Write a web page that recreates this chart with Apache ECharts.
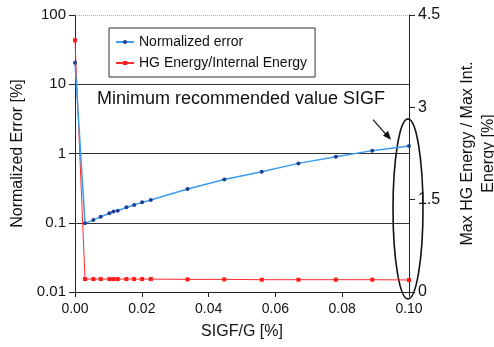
<!DOCTYPE html>
<html>
<head>
<meta charset="utf-8">
<script src="https://cdn.jsdelivr.net/npm/echarts@6/dist/echarts.min.js"></script>
<style>
  html, body { margin: 0; padding: 0; background: #fff; }
  #chart { width: 494px; height: 347px; }
</style>
</head>
<body>
<div id="chart"></div>
<script>
// x positions (SIGF/G in %)
const sigf = [0, 0.003, 0.0055, 0.0077, 0.0103, 0.0115, 0.0128, 0.0154, 0.0177, 0.0201, 0.0227,
              0.0337, 0.0447, 0.0559, 0.0669, 0.0781, 0.089, 0.1];
// normalized error [%] (left, log)
const normError = [20.5, 0.098, 0.11, 0.122, 0.137, 0.145, 0.149, 0.167, 0.18, 0.197, 0.213,
                   0.307, 0.42, 0.546, 0.72, 0.9, 1.1, 1.28];
// HG energy / internal energy [%] (right, linear)
const hgRatio = [4.09, 0.21, 0.21, 0.21, 0.21, 0.21, 0.21, 0.21, 0.21, 0.21, 0.21,
                 0.205, 0.205, 0.2, 0.2, 0.2, 0.2, 0.195];
const leftTicks = [0.01, 0.1, 1, 10, 100];
const rightTicks = [0, 1.5, 3, 4.5];

const font = "Liberation Sans, Arial, sans-serif";
const chart = echarts.init(document.getElementById("chart"));

const option = {
    animation: false,
    grid: { left: 75, right: 85, top: 15, bottom: 55, containLabel: false, outerBoundsMode: "none" },
    legend: {
        left: 109, top: 28,
        orient: "vertical",
        borderColor: "#333", borderWidth: 1,
        padding: [7, 8, 7, 6],
        itemGap: 7, itemWidth: 18, itemHeight: 5,
        textStyle: { fontFamily: font, fontSize: 14, color: "#111", lineHeight: 14 },
        data: ["Normalized error", "HG Energy/Internal Energy"],
    },
    xAxis: {
        type: "value",
        min: 0, max: 0.1, interval: 0.02,
        name: "SIGF/G [%]", nameLocation: "middle", nameGap: 32,
        nameTextStyle: { fontFamily: font, fontSize: 16, color: "#111" },
        axisLine: { lineStyle: { color: "#222", width: 1 } },
        axisTick: { show: true, length: 5, lineStyle: { color: "#222" } },
        axisLabel: { fontFamily: font, fontSize: 14, color: "#111", margin: 10,
                     formatter: v => v.toFixed(2) },
        splitLine: { show: false },
    },
    yAxis: [{
        type: "log", logBase: 10,
        min: leftTicks[0], max: leftTicks[leftTicks.length - 1],
        name: "Normalized Error [%]", nameLocation: "middle", nameGap: 48,
        nameTextStyle: { fontFamily: font, fontSize: 16, color: "#111" },
        axisLine: { show: true, lineStyle: { color: "#222", width: 1 } },
        axisTick: { show: true, length: 6, lineStyle: { color: "#222" } },
        axisLabel: { fontFamily: font, fontSize: 15, color: "#111", margin: 9,
                     formatter: v => String(+v.toPrecision(2)) },
        splitLine: { show: true, lineStyle: { color: ["#333", "#333", "#333", "#333", "rgba(0,0,0,0)"], width: 1 } },
        minorTick: { show: false },
    }, {
        type: "value",
        min: 0, max: 4.5, interval: 1.5,
        position: "right",
        name: "Max HG Energy / Max Int.\nEnergy [%]", nameLocation: "middle", nameGap: 48, nameRotate: 90,
        nameTextStyle: { fontFamily: font, fontSize: 16, color: "#111", lineHeight: 21 },
        axisLine: { show: true, lineStyle: { color: "#222", width: 1 } },
        axisTick: { show: true, length: 6, lineStyle: { color: "#222" } },
        axisLabel: { fontFamily: font, fontSize: 16, color: "#111", margin: 9,
                     formatter: v => String(v) },
        splitLine: { show: false },
    }],
    series: [{
        name: "Normalized error",
        type: "line",
        yAxisIndex: 0,
        data: sigf.map((x, i) => [x, normError[i]]),
        symbol: "circle", symbolSize: 4, showSymbol: true,
        lineStyle: { color: "#3a9cf0", width: 1.5 },
        itemStyle: { color: "#1d3f96", borderWidth: 0 },
        markLine: {
            silent: true, symbol: "none", label: { show: false },
            lineStyle: { color: "rgba(225,120,150,0.8)", type: "dotted", width: 1 },
            data: [{ yAxis: leftTicks[leftTicks.length - 1] }],
        },
        z: 3,
    }, {
        name: "HG Energy/Internal Energy",
        type: "line",
        yAxisIndex: 1,
        data: sigf.map((x, i) => [x, hgRatio[i]]),
        symbol: "rect", symbolSize: 4, showSymbol: true,
        lineStyle: { color: "#ff2a2a", width: 1 },
        itemStyle: { color: "#ff1a1a", borderWidth: 0 },
        z: 2,
    }],
};
chart.setOption(option);

// annotation: ellipse around x = 0.1, arrow and text
const c = chart.convertToPixel({ xAxisIndex: 0, yAxisIndex: 1 }, [0.1, 1.35]);
const tip = chart.convertToPixel({ xAxisIndex: 0, yAxisIndex: 1 }, [0.1, 2.8]);
chart.setOption({
    graphic: [{
        type: "ellipse",
        shape: { cx: c[0] - 1, cy: c[1], rx: 15, ry: 90 },
        style: { fill: "none", stroke: "#111", lineWidth: 1.6 },
    }, {
        type: "line",
        shape: { x1: c[0] - 36, y1: tip[1], x2: c[0] - 21, y2: tip[1] + 17 },
        style: { stroke: "#111", lineWidth: 1.2 },
    }, {
        type: "polygon",
        shape: { points: [[c[0] - 18, tip[1] + 20], [c[0] - 26, tip[1] + 16], [c[0] - 21, tip[1] + 11]] },
        style: { fill: "#111" },
    }, {
        type: "text",
        left: 97, top: 90,
        style: { text: "Minimum recommended value SIGF", font: "18px " + font, fill: "#111" },
    }],
});
</script>
</body>
</html>
